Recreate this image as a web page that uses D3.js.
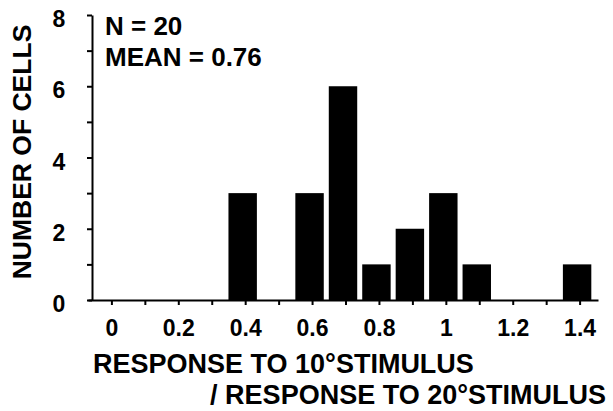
<!DOCTYPE html>
<html>
<head>
<meta charset="utf-8">
<script src="https://d3js.org/d3.v7.min.js"></script>
<style>
	body { margin: 0; background: #fff; }
	text { font-family: "Liberation Sans", Arial, sans-serif; font-weight: bold; fill: #000; }
</style>
</head>
<body>
<script>
// histogram data: bin (response ratio) and number of cells
var bins = [0.4, 0.6, 0.7, 0.8, 0.9, 1.0, 1.1, 1.4];
var counts = [3, 3, 6, 1, 2, 3, 1, 1];

// ticks
var xTicks = [0, 0.1, 0.2, 0.3, 0.4, 0.5, 0.6, 0.7, 0.8, 0.9, 1.0, 1.1, 1.2, 1.3, 1.4];
var xLabels = ["0", "", "0.2", "", "0.4", "", "0.6", "", "0.8", "", "1", "", "1.2", "", "1.4"];
var yTicks = [0, 1, 2, 3, 4, 5, 6, 7, 8];
var yLabels = ["0", "", "2", "", "4", "", "6", "", "8"];

var notes = ["N = 20", "MEAN = 0.76"];

var width = 613, height = 411;
var binWidth = 0.1;

var svg = d3.select("body").append("svg")
	.attr("width", width)
	.attr("height", height);

// scales
var xscale = d3.scaleLinear()
	.domain([-0.07, 1.455])
	.range([88, 598]);

var yscale = d3.scaleLinear()
	.domain([0, 8])
	.range([300, 15]);

// bars, drawn from the left edge of each bin
var barData = bins.map(function (b, i) { return {bin: b, n: counts[i]}; });
svg.selectAll("rect.bar")
	.data(barData)
	.enter()
	.append("rect")
	.attr("class", "bar")
	.attr("x", function (d) { return xscale(d.bin - binWidth / 2); })
	.attr("width", xscale(0.085) - xscale(0))
	.attr("y", function (d) { return yscale(d.n); })
	.attr("height", function (d) { return yscale(0) - yscale(d.n); })
	.style("fill", "#000");

// y axis
var yaxis = d3.axisLeft(yscale)
	.tickValues(yTicks)
	.tickSize(5)
	.tickSizeOuter(0)
	.tickFormat(function (d, i) { return yLabels[i]; });
var gy = svg.append("g")
	.attr("transform", "translate(92,0)")
	.call(yaxis);
gy.select(".domain").attr("stroke-width", 2);
gy.selectAll(".tick line").attr("stroke-width", 2);
gy.selectAll(".tick text")
	.attr("x", -33)
	.attr("dy", "0.5em")
	.attr("text-anchor", "middle")
	.style("font-size", "23px");

// x axis
var xaxis = d3.axisBottom(xscale)
	.tickValues(xTicks)
	.tickSize(5)
	.tickPadding(15)
	.tickSizeOuter(0)
	.tickFormat(function (d, i) { return xLabels[i]; });
var gx = svg.append("g")
	.attr("transform", "translate(0,300)")
	.call(xaxis);
gx.select(".domain").attr("stroke-width", 2);
gx.selectAll(".tick line").attr("stroke-width", 2);
gx.selectAll(".tick text").style("font-size", "23px");

// axis titles
svg.append("text")
	.attr("transform", "translate(31,152) rotate(-90)")
	.attr("text-anchor", "middle")
	.style("font-size", "26.5px")
	.text("NUMBER OF CELLS");

svg.append("text")
	.attr("x", 93)
	.attr("y", 373)
	.style("font-size", "27px")
	.text("RESPONSE TO 10\u00B0STIMULUS");

svg.append("text")
	.attr("x", 606)
	.attr("y", 404)
	.attr("text-anchor", "end")
	.style("font-size", "27px")
	.text("/ RESPONSE TO 20\u00B0STIMULUS");

// N and mean
svg.selectAll("text.note")
	.data(notes)
	.enter()
	.append("text")
	.attr("class", "note")
	.attr("x", 105)
	.attr("y", function (d, i) { return 35 + i * 31; })
	.style("font-size", "26px")
	.text(function (d) { return d; });
</script>
</body>
</html>
